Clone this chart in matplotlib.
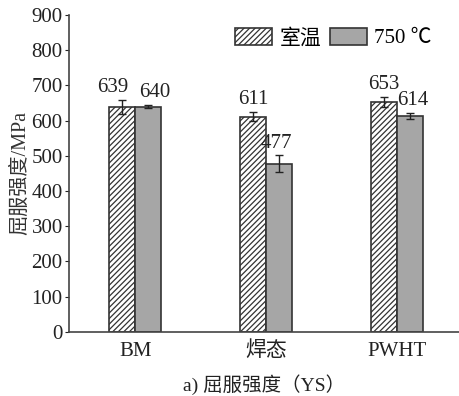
import matplotlib
matplotlib.use("Agg")
import matplotlib.pyplot as plt
import numpy as np

plt.rcParams['font.family'] = ['Liberation Serif', 'Noto Sans CJK SC']
plt.rcParams['hatch.linewidth'] = 0.9

categories = ["BM", "焊态", "PWHT"]
room_temp = [639, 611, 653]
room_err = [19, 13, 14]
hot_temp = [640, 477, 614]
hot_err = [4, 24, 9]
legend_labels = ["室温", "750 ℃"]

x = np.arange(len(categories))
w = 0.2
fs = 15

fig = plt.figure(figsize=(4.6, 3.96), dpi=100)
ax = fig.add_axes([0.15, 0.162, 0.85, 0.8])

ax.bar(x - w / 2, room_temp, w, yerr=room_err, color="white", edgecolor="#333333",
       hatch="//////", linewidth=1.2, capsize=3, error_kw=dict(elinewidth=1, ecolor="#222222"),
       label=legend_labels[0])
ax.bar(x + w / 2, hot_temp, w, yerr=hot_err, color="#a6a6a6", edgecolor="#333333",
       linewidth=1.2, capsize=3, error_kw=dict(elinewidth=1, ecolor="#222222"),
       label=legend_labels[1])

# BM labels are nudged apart so they don't collide
nudge_room = [-7, 0, 0]
nudge_hot = [5, -2, 2]
for xi, v, e, dx in zip(x - w / 2, room_temp, room_err, nudge_room):
    ax.annotate(str(v), (xi, v + e), xytext=(dx, 2), textcoords="offset points",
                ha="center", va="bottom", fontsize=fs, color="#222222")
for xi, v, e, dx in zip(x + w / 2, hot_temp, hot_err, nudge_hot):
    ax.annotate(str(v), (xi, v + e), xytext=(dx, 2), textcoords="offset points",
                ha="center", va="bottom", fontsize=fs, color="#222222")

ax.set_xlim(-0.505, 2.48)
ax.set_ylim(0, 900)
ax.set_yticks(range(0, 901, 100))
ax.set_xticks(x)
ax.set_xticklabels(categories, fontsize=fs)
ax.tick_params(axis="y", labelsize=fs, direction="out", length=3, pad=1.5, colors="#222222")
ax.tick_params(axis="x", length=0, pad=7, colors="#222222")
for s in ["top", "right"]:
    ax.spines[s].set_visible(False)
for s in ["left", "bottom"]:
    ax.spines[s].set_color("#444444")
    ax.spines[s].set_linewidth(1.2)

ax.set_ylabel("屈服强度/MPa", fontsize=14.5, color="#333333", labelpad=1)
ax.set_xlabel("a) 屈服强度（YS）", fontsize=14, color="#222222", labelpad=9)

ax.legend(loc="upper right", ncol=2, frameon=False, fontsize=fs, handlelength=1.8,
          handleheight=0.9, columnspacing=0.4, handletextpad=0.35,
          borderaxespad=0.2, bbox_to_anchor=(0.96, 1.0))

fig.savefig("out.png", dpi=100)
